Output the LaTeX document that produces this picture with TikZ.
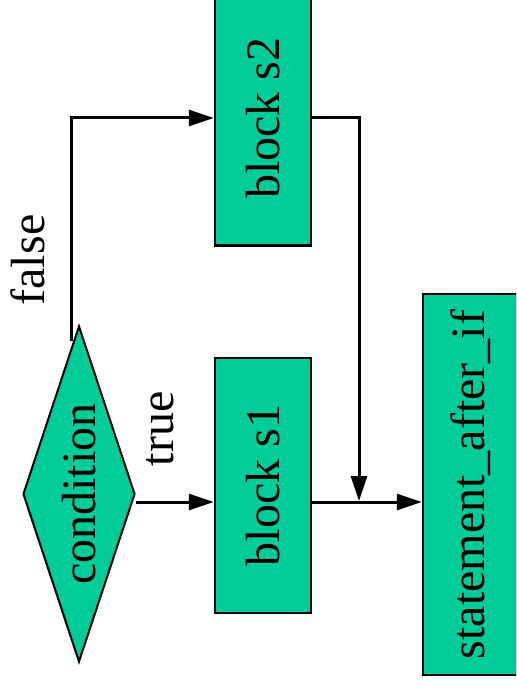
\documentclass[tikz,border=0pt]{standalone}
\usepackage{fontspec}
\setmainfont{Liberation Serif}
\usetikzlibrary{shapes.geometric,arrows.meta}
\definecolor{boxgreen}{RGB}{0,204,153}
\tikzset{
  x=1pt, y=1pt,
  every node/.style={font=\fontsize{48}{56}\selectfont},
  blockbox/.style={draw=black, fill=boxgreen, line width=2.5pt, rectangle,
    inner sep=0pt, minimum width=96pt},
  decision/.style={draw=black, fill=boxgreen, line width=2pt, diamond,
    aspect=0.3333, inner sep=0pt, minimum width=112pt, minimum height=336pt},
  arr/.style={line width=3pt, -{Triangle[length=25pt,width=16pt]}},
  lbl/.style={rotate=90, inner sep=0pt}
}
\begin{document}
\begin{tikzpicture}
\clip (0,0) rectangle (516,-692);
% nodes
\node[decision] (cond) at (79,-494) {\rotatebox{90}{condition}};
\node[blockbox, minimum height=255pt] (s2) at (263,-118) {\rotatebox{90}{block s2}};
\node[blockbox, minimum height=255pt] (s1) at (263,-485.5) {\rotatebox{90}{block s1}};
\node[blockbox, minimum height=381pt] (st) at (471,-484.5) {\rotatebox{90}{statement\_after\_if}};
% helper points for the routing
\coordinate (row) at (0,-502);
\coordinate (fstart) at (71,-341);
\coordinate (merge) at (359,-501);
% connectors
\draw[arr] (fstart) |- (s2.west);
\draw[arr] (cond.east |- row) -- (s1.west |- row);
\draw[arr] (s2.east) -| (merge);
\draw[arr] (s1.east |- row) -- (st.west |- row);
% edge labels
\node[lbl] (lfalse) at (28,-260) {false};
\node[lbl] (ltrue) at (160,-429) {true};
\end{tikzpicture}
\end{document}
